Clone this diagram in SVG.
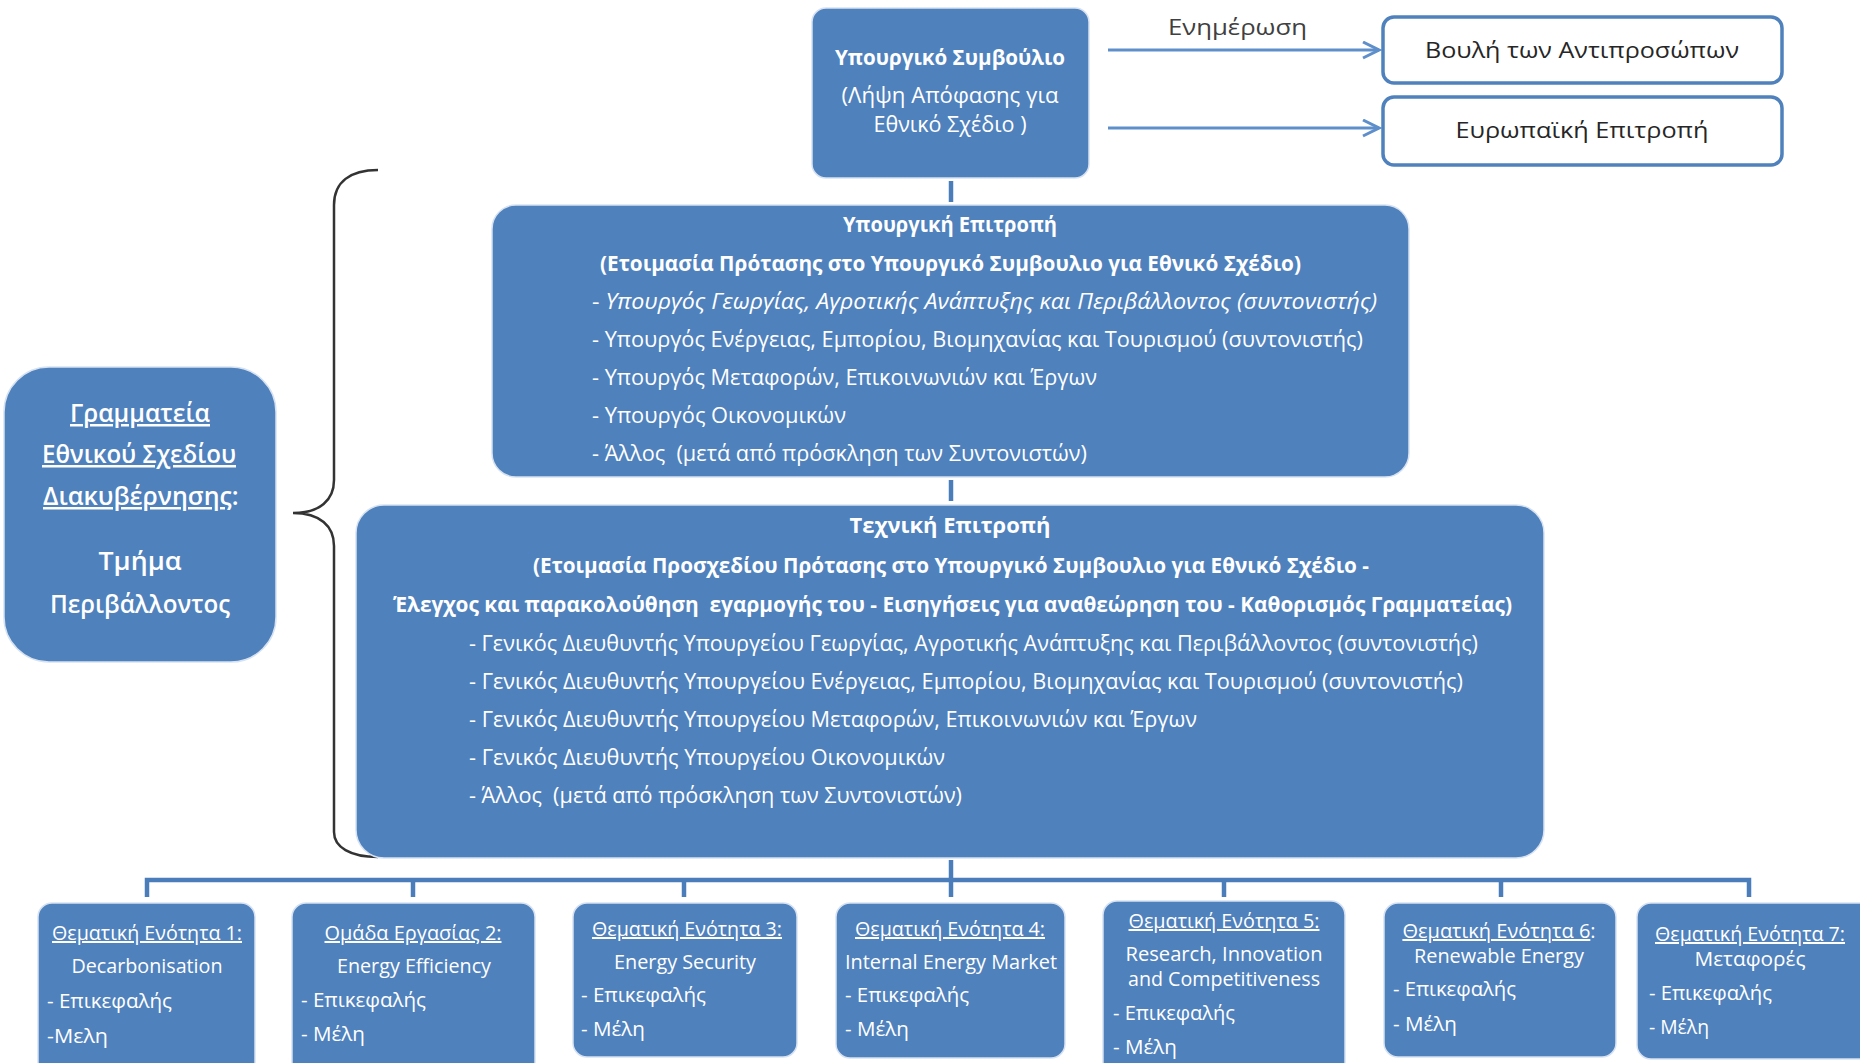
<svg xmlns="http://www.w3.org/2000/svg" width="1860" height="1063" viewBox="0 0 1860 1063">
<style>
.box{fill:#4F81BD;stroke:#D6E2F1;stroke-width:1.5}
.wbox{fill:#ffffff;stroke:#4F81BD;stroke-width:3.5}
.t{font-family:"Open Sans","Noto Sans","DejaVu Sans",sans-serif;fill:#ffffff}
.c{text-anchor:middle}
.b{font-weight:bold}
.sb{font-weight:600}
.i{font-style:italic}
.u{text-decoration:underline}
.s20{font-size:20px}
.s21{font-size:21px}
.s25{font-size:25px}
.dk{fill:#262626;font-size:22px}
.conn{stroke:#4A7DBA;stroke-width:4.5;fill:none}
.arr{stroke:#5F8FCB;stroke-width:3;fill:none}
.pre{white-space:pre}
</style>
<defs>
<marker id="chev" markerWidth="20" markerHeight="20" refX="17" refY="9" orient="auto" markerUnits="userSpaceOnUse">
<path d="M1,1 L17,9 L1,17" fill="none" stroke="#5F8FCB" stroke-width="3"/>
</marker>
</defs>
<rect width="1860" height="1063" fill="#ffffff"/>

<g id="connectors">
<path class="arr" d="M1108,50 L1379,50" marker-end="url(#chev)"/>
<path class="arr" d="M1108,128 L1379,128" marker-end="url(#chev)"/>
<path class="conn" d="M951,181 L951,202"/>
<path class="conn" d="M951,480 L951,501"/>
<path class="conn" d="M951,860 L951,880"/>
<path class="conn" d="M147,897 L147,880 L1749,880 L1749,897"/>
<path class="conn" d="M413,880 L413,897"/>
<path class="conn" d="M684,880 L684,897"/>
<path class="conn" d="M951,880 L951,897"/>
<path class="conn" d="M1224,880 L1224,897"/>
<path class="conn" d="M1501,880 L1501,897"/>
<path id="brace" d="M378,170 C350,170 334,182 334,205 L334,480 C334,500 320,513 293,513 C320,513 334,526 334,546 L334,832 C334,847 350,857 378,857" fill="none" stroke="#333333" stroke-width="2.5"/>
<text class="t" x="1168" y="35" style="fill:#404040;font-size:22px" textLength="139" lengthAdjust="spacingAndGlyphs">Ενημέρωση</text>
</g>

<g id="council">
<rect class="box" x="812" y="8" width="277" height="170" rx="14"/>
<text class="t c b s21" x="950" y="65" textLength="230" lengthAdjust="spacingAndGlyphs">Υπουργικό Συμβούλιο</text>
<text class="t c s21" x="950" y="103" textLength="217" lengthAdjust="spacingAndGlyphs">(Λήψη Απόφασης για</text>
<text class="t c s21" x="950" y="132" textLength="153" lengthAdjust="spacingAndGlyphs">Εθνικό Σχέδιο )</text>
</g>

<g id="parliament">
<rect class="wbox" x="1383" y="17" width="399" height="66" rx="11"/>
<text class="t c dk" x="1582" y="58" textLength="314" lengthAdjust="spacingAndGlyphs">Βουλή των Αντιπροσώπων</text>
</g>

<g id="eu-commission">
<rect class="wbox" x="1383" y="97" width="399" height="68" rx="11"/>
<text class="t c dk" x="1582" y="138" textLength="253" lengthAdjust="spacingAndGlyphs">Ευρωπαϊκή Επιτροπή</text>
</g>

<g id="secretariat">
<rect class="box" x="4" y="367" width="272" height="295" rx="45"/>
<text class="t c s25 u sb" x="140" y="422" textLength="140" lengthAdjust="spacingAndGlyphs">Γραμματεία</text>
<text class="t c s25 u sb" x="139" y="463" textLength="194" lengthAdjust="spacingAndGlyphs">Εθνικού Σχεδίου</text>
<text class="t s25 sb" x="43" y="505"><tspan class="u">Διακυβέρνησης</tspan>:</text>
<text class="t c s25 sb" x="140" y="570" textLength="83" lengthAdjust="spacingAndGlyphs">Τμήμα</text>
<text class="t c s25 sb" x="140" y="613" textLength="180" lengthAdjust="spacingAndGlyphs">Περιβάλλοντος</text>
</g>

<g id="ministerial-committee">
<rect class="box" x="492" y="205" width="917" height="272" rx="24"/>
<text class="t c b s21" x="950" y="232" textLength="214" lengthAdjust="spacingAndGlyphs">Υπουργική Επιτροπή</text>
<text class="t b s21" x="600" y="271" textLength="701" lengthAdjust="spacingAndGlyphs">(Ετοιμασία Πρότασης στο Υπουργικό Συμβουλιο για Εθνικό Σχέδιο)</text>
<text class="t s21" x="592" y="309" textLength="785" lengthAdjust="spacingAndGlyphs">- <tspan class="i">Υπουργός Γεωργίας, Αγροτικής Ανάπτυξης και Περιβάλλοντος (συντονιστής)</tspan></text>
<text class="t s21" x="592" y="347" textLength="771" lengthAdjust="spacingAndGlyphs">- Υπουργός Ενέργειας, Εμπορίου, Βιομηχανίας και Τουρισμού (συντονιστής)</text>
<text class="t s21" x="592" y="385" textLength="505" lengthAdjust="spacingAndGlyphs">- Υπουργός Μεταφορών, Επικοινωνιών και Έργων</text>
<text class="t s21" x="592" y="423" textLength="254" lengthAdjust="spacingAndGlyphs">- Υπουργός Οικονομικών</text>
<text class="t s21 pre" x="592" y="461" textLength="495" lengthAdjust="spacingAndGlyphs">- Άλλος  (μετά από πρόσκληση των Συντονιστών)</text>
</g>

<g id="technical-committee">
<rect class="box" x="356" y="505" width="1188" height="353" rx="28"/>
<text class="t c b s21" x="950" y="533" textLength="201" lengthAdjust="spacingAndGlyphs">Τεχνική Επιτροπή</text>
<text class="t b s21" x="533" y="573" textLength="836" lengthAdjust="spacingAndGlyphs">(Ετοιμασία Προσχεδίου Πρότασης στο Υπουργικό Συμβουλιο για Εθνικό Σχέδιο -</text>
<text class="t b s21 pre" x="393" y="612" textLength="1119" lengthAdjust="spacingAndGlyphs">Έλεγχος και παρακολούθηση  εγαρμογής του - Εισηγήσεις για αναθεώρηση του - Καθορισμός Γραμματείας)</text>
<text class="t s21" x="469" y="651" textLength="1009" lengthAdjust="spacingAndGlyphs">- Γενικός Διευθυντής Υπουργείου Γεωργίας, Αγροτικής Ανάπτυξης και Περιβάλλοντος (συντονιστής)</text>
<text class="t s21" x="469" y="689" textLength="994" lengthAdjust="spacingAndGlyphs">- Γενικός Διευθυντής Υπουργείου Ενέργειας, Εμπορίου, Βιομηχανίας και Τουρισμού (συντονιστής)</text>
<text class="t s21" x="469" y="727" textLength="728" lengthAdjust="spacingAndGlyphs">- Γενικός Διευθυντής Υπουργείου Μεταφορών, Επικοινωνιών και Έργων</text>
<text class="t s21" x="469" y="765" textLength="476" lengthAdjust="spacingAndGlyphs">- Γενικός Διευθυντής Υπουργείου Οικονομικών</text>
<text class="t s21 pre" x="469" y="803" textLength="493" lengthAdjust="spacingAndGlyphs">- Άλλος  (μετά από πρόσκληση των Συντονιστών)</text>
</g>

<g id="theme-1">
<rect class="box" x="38" y="903" width="217" height="180" rx="14"/>
<text class="t c s20 u" x="147" y="940" textLength="190" lengthAdjust="spacingAndGlyphs">Θεματική Ενότητα 1:</text>
<text class="t c s20" x="147" y="973" textLength="151" lengthAdjust="spacingAndGlyphs">Decarbonisation</text>
<text class="t s20" x="47" y="1008" textLength="125" lengthAdjust="spacingAndGlyphs">- Επικεφαλής</text>
<text class="t s20" x="47" y="1043" textLength="61" lengthAdjust="spacingAndGlyphs">-Μελη</text>
</g>

<g id="theme-2">
<rect class="box" x="292" y="903" width="243" height="180" rx="14"/>
<text class="t c s20 u" x="413" y="940" textLength="177" lengthAdjust="spacingAndGlyphs">Ομάδα Εργασίας 2:</text>
<text class="t c s20" x="414" y="973" textLength="154" lengthAdjust="spacingAndGlyphs">Energy Efficiency</text>
<text class="t s20" x="301" y="1007" textLength="125" lengthAdjust="spacingAndGlyphs">- Επικεφαλής</text>
<text class="t s20" x="301" y="1041" textLength="64" lengthAdjust="spacingAndGlyphs">- Μέλη</text>
</g>

<g id="theme-3">
<rect class="box" x="573" y="903" width="224" height="154" rx="14"/>
<text class="t c s20 u" x="687" y="936" textLength="190" lengthAdjust="spacingAndGlyphs">Θεματική Ενότητα 3:</text>
<text class="t c s20" x="685" y="969" textLength="142" lengthAdjust="spacingAndGlyphs">Energy Security</text>
<text class="t s20" x="581" y="1002" textLength="125" lengthAdjust="spacingAndGlyphs">- Επικεφαλής</text>
<text class="t s20" x="581" y="1036" textLength="64" lengthAdjust="spacingAndGlyphs">- Μέλη</text>
</g>

<g id="theme-4">
<rect class="box" x="836" y="903" width="229" height="155" rx="14"/>
<text class="t c s20 u" x="950" y="936" textLength="190" lengthAdjust="spacingAndGlyphs">Θεματική Ενότητα 4:</text>
<text class="t c s20" x="951" y="969" textLength="212" lengthAdjust="spacingAndGlyphs">Internal Energy Market</text>
<text class="t s20" x="845" y="1002" textLength="124" lengthAdjust="spacingAndGlyphs">- Επικεφαλής</text>
<text class="t s20" x="845" y="1036" textLength="64" lengthAdjust="spacingAndGlyphs">- Μέλη</text>
</g>

<g id="theme-5">
<rect class="box" x="1103" y="901" width="242" height="182" rx="14"/>
<text class="t c s20 u" x="1224" y="928" textLength="191" lengthAdjust="spacingAndGlyphs">Θεματική Ενότητα 5:</text>
<text class="t c s20" x="1224" y="961" textLength="197" lengthAdjust="spacingAndGlyphs">Research, Innovation</text>
<text class="t c s20" x="1224" y="986" textLength="192" lengthAdjust="spacingAndGlyphs">and Competitiveness</text>
<text class="t s20" x="1113" y="1020" textLength="122" lengthAdjust="spacingAndGlyphs">- Επικεφαλής</text>
<text class="t s20" x="1113" y="1054" textLength="64" lengthAdjust="spacingAndGlyphs">- Μέλη</text>
</g>

<g id="theme-6">
<rect class="box" x="1384" y="903" width="232" height="154" rx="14"/>
<text class="t c s20" x="1499" y="938"><tspan class="u">Θεματική Ενότητα 6</tspan>:</text>
<text class="t c s20" x="1499" y="963" textLength="170" lengthAdjust="spacingAndGlyphs">Renewable Energy</text>
<text class="t s20" x="1393" y="996" textLength="123" lengthAdjust="spacingAndGlyphs">- Επικεφαλής</text>
<text class="t s20" x="1393" y="1031" textLength="64" lengthAdjust="spacingAndGlyphs">- Μέλη</text>
</g>

<g id="theme-7">
<rect class="box" x="1637" y="903" width="240" height="156" rx="14"/>
<text class="t c s20 u" x="1750" y="941" textLength="190" lengthAdjust="spacingAndGlyphs">Θεματική Ενότητα 7:</text>
<text class="t c s20" x="1750" y="966" textLength="111" lengthAdjust="spacingAndGlyphs">Μεταφορές</text>
<text class="t s20" x="1649" y="1000" textLength="123" lengthAdjust="spacingAndGlyphs">- Επικεφαλής</text>
<text class="t s20" x="1649" y="1034" textLength="60" lengthAdjust="spacingAndGlyphs">- Μέλη</text>
</g>
</svg>
